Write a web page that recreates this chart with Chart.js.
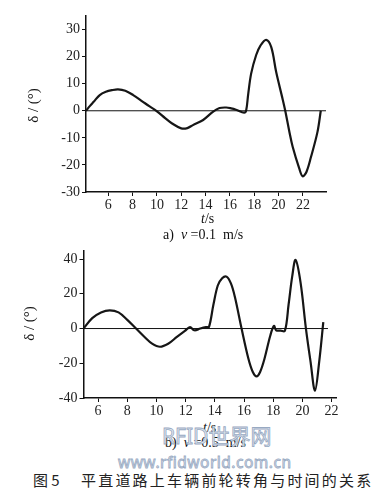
<!DOCTYPE html>
<html>
<head>
<meta charset="utf-8">
<script src="https://cdn.jsdelivr.net/npm/chart.js@4"></script>
<style>
  body { margin: 0; background: #fff; }
  #page { position: relative; width: 388px; height: 492px; overflow: hidden; font-family: "Liberation Serif", "DejaVu Serif", serif; color: #111; }
  .box { position: absolute; left: 0; }
  .lbl { position: absolute; font-size: 14px; white-space: pre; }
  .ylab { position: absolute; font-size: 15px; white-space: pre; transform: rotate(-90deg); transform-origin: center center; }
  .wm { position: absolute; white-space: pre; color: #e3e9f1; -webkit-text-stroke: 0.8px #98a9c2; font-family: "Noto Sans", "Noto Sans CJK SC", sans-serif; }
  .cap { position: absolute; top: 469px; font-family: "Noto Sans CJK SC", sans-serif; font-size: 15px; white-space: pre; color: #222; }
</style>
</head>
<body>
<div id="page">
  <div class="box" style="top:0; width:388px; height:215px;"><canvas id="chartA" width="388" height="215"></canvas></div>
  <div class="box" style="top:240px; width:388px; height:180px;"><canvas id="chartB" width="388" height="180"></canvas></div>

  <div class="ylab" style="left:16px; top:97px;">δ / (°)</div>
  <div class="lbl" style="left:201px; top:211px;"><i>t</i>/s</div>
  <div class="lbl" style="left:163px; top:227px;">a)  <i>v</i> =0.1  m/s</div>

  <div class="ylab" style="left:12px; top:315px;">δ / (°)</div>
  <div class="lbl" style="left:203px; top:420px;"><i>t</i>/s</div>
  <div class="lbl" style="left:165px; top:435px;">b)  <i>v</i> =0.5  m/s</div>

  <div class="wm" style="left:162px; top:420px; font-size:21px;">RFID世界网</div>
  <div class="wm" style="left:118px; top:451px; font-size:15.5px; letter-spacing:0.5px;">www.rfidworld.com.cn</div>

  <div class="cap" style="left:33px;">图 5</div>
  <div class="cap" style="left:81px; letter-spacing:2.2px;">平直道路上车辆前轮转角与时间的关系</div>
</div>

<script>
// a) v = 0.1 m/s
const timeA = [4.17, 4.5, 4.8, 5.3, 5.8, 6.3, 6.8, 7.4, 8.05, 8.85, 9.4, 9.95, 10.7, 11.25, 12.0, 12.5, 12.96, 13.8, 14.6, 15.15, 15.7, 16.1, 16.5, 17.17, 17.34, 17.5, 17.75, 18.16, 18.5, 18.98, 19.4, 19.8, 20.35, 20.55, 20.9, 21.16, 21.7, 21.98, 22.3, 22.67, 23.2, 23.47];
const angleA = [0, 1.8, 3.3, 5.8, 7.0, 7.6, 7.9, 7.4, 5.8, 3.3, 1.6, 0, -2.8, -4.7, -6.5, -6.4, -5.3, -3.4, -0.4, 1.0, 1.2, 0.9, 0.4, -0.7, 0.2, 6, 13.8, 20.6, 24, 26.2, 23.5, 14.4, 4, 0, -8, -13.3, -21.3, -24.2, -22.5, -17, -7.8, 0];
const zeroA = [4.17, 23.9];
const xTicksA = [6, 8, 10, 12, 14, 16, 18, 20, 22];
const yTicksA = [-30, -20, -10, 0, 10, 20, 30];

// b) v = 0.5 m/s
const timeB = [5.0, 5.6, 6.2, 6.8, 7.4, 8.0, 8.6, 9.2, 9.7, 10.24, 10.8, 11.4, 11.95, 12.3, 12.6, 13.0, 13.4, 13.6, 13.9, 14.2, 14.5, 14.8, 15.1, 15.37, 15.83, 16.3, 16.6, 16.86, 17.1, 17.4, 17.8, 18.05, 18.2, 18.5, 18.8, 19.05, 19.3, 19.53, 19.87, 20.24, 20.56, 20.86, 21.15, 21.43];
const angleB = [0, 6, 9.3, 10.5, 9.3, 5, 0, -5, -8.7, -10.5, -8.8, -4.8, -1.3, 0.8, -1, 0, 0.8, 1, 13.7, 24.8, 29, 29.9, 26, 18.3, 0, -17.4, -25, -27.5, -25, -17.4, -4, 1.5, -1, -1.2, -1.3, 13.7, 30, 39.5, 26.6, 0, -19.3, -35.8, -19, 3.7];
const zeroB = [5.0, 21.75];
const xTicksB = [6, 8, 10, 12, 14, 16, 18, 20, 22];
const yTicksB = [-40, -20, 0, 20, 40];

function pts(xs, ys) {
    return xs.map((x, i) => ({ x: x, y: ys[i] }));
}

function makeChart(id, cfg) {
    const tickFont = { family: '"Liberation Serif", "DejaVu Serif", serif', size: 14 };
    new Chart(document.getElementById(id), {
        type: 'line',
        data: {
            datasets: [
                {
                    data: pts(cfg.zero, [0, 0]),
                    borderColor: '#111', borderWidth: 1, pointRadius: 0, tension: 0
                },
                {
                    data: pts(cfg.time, cfg.angle),
                    borderColor: '#161616', borderWidth: 2.2, pointRadius: 0,
                    tension: 0.35
                }
            ]
        },
        options: {
            responsive: false,
            animation: false,
            events: [],
            layout: { padding: cfg.padding },
            plugins: { legend: { display: false }, tooltip: { enabled: false } },
            scales: {
                x: {
                    type: 'linear', min: cfg.xMin, max: cfg.xMax,
                    afterBuildTicks: s => { s.ticks = cfg.xTicks.map(v => ({ value: v })); },
                    afterFit: s => { s.height = cfg.xHeight; },
                    ticks: { color: '#222', font: tickFont, padding: 1, maxRotation: 0, autoSkip: false },
                    grid: { drawOnChartArea: false, tickLength: 4, color: '#111' },
                    border: { display: true, color: '#111', width: 1.5 }
                },
                y: {
                    min: cfg.yMin, max: cfg.yMax,
                    afterBuildTicks: s => { s.ticks = cfg.yTicks.map(v => ({ value: v })); },
                    afterFit: s => { s.width = cfg.yWidth; },
                    ticks: { color: '#222', font: tickFont, padding: 2 },
                    grid: { drawOnChartArea: false, tickLength: 4, color: '#111' },
                    border: { display: true, color: '#111', width: 1.5 }
                }
            }
        }
    });
}

makeChart('chartA', {
    time: timeA, angle: angleA, zero: zeroA, xTicks: xTicksA, yTicks: yTicksA,
    xMin: 4.17, xMax: 23.9, yMin: -30, yMax: 35,
    yWidth: 86, xHeight: 23,
    padding: { top: 16, right: 62, bottom: 0, left: 0 }
});

makeChart('chartB', {
    time: timeB, angle: angleB, zero: zeroB, xTicks: xTicksB, yTicks: yTicksB,
    xMin: 5.0, xMax: 22.3, yMin: -40, yMax: 45,
    yWidth: 83.5, xHeight: 22,
    padding: { top: 3, right: 52, bottom: 0, left: 0 }
});
</script>
</body>
</html>
